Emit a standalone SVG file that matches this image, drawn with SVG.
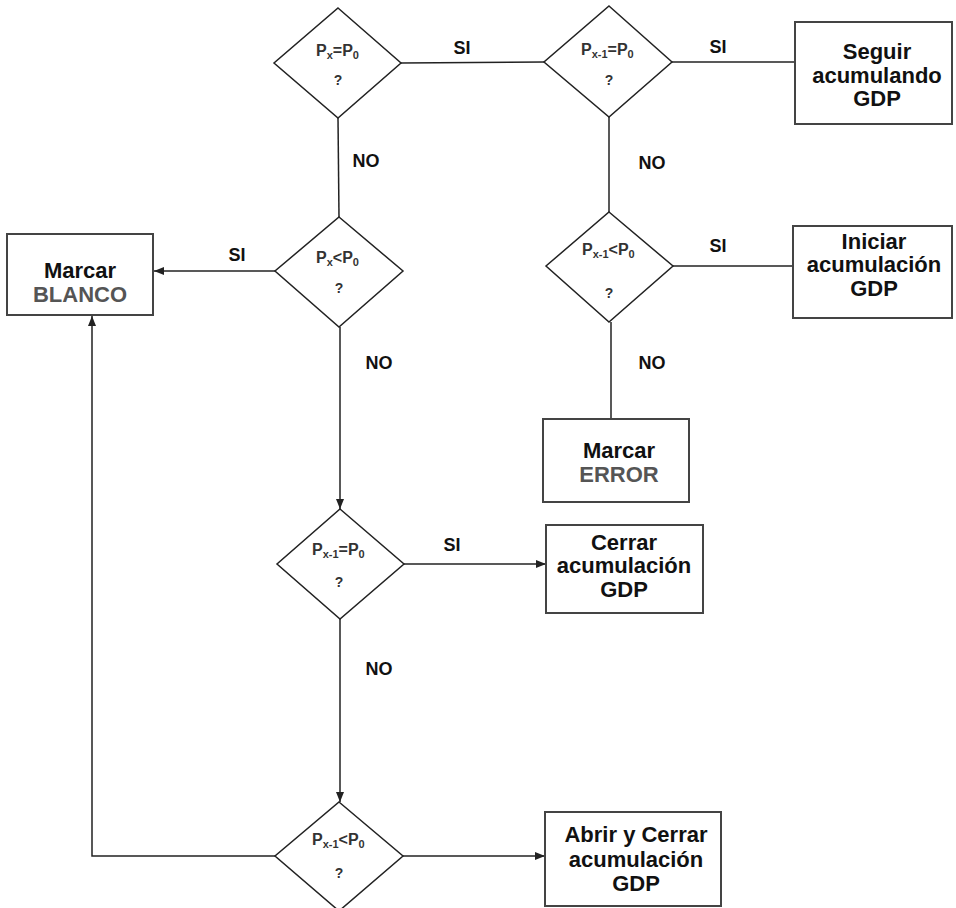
<svg xmlns="http://www.w3.org/2000/svg" width="956" height="908" viewBox="0 0 956 908">
<style>
.d{fill:#fff;stroke:#222;stroke-width:1.5}
.b{fill:#fff;stroke:#444;stroke-width:2}
.c{fill:none;stroke:#222;stroke-width:1.5}
.dt{font-family:"Liberation Sans",Arial,sans-serif;font-weight:bold;font-size:16px;fill:#333}
.sub{font-size:11px}
.q{font-family:"Liberation Sans",Arial,sans-serif;font-weight:bold;font-size:14px;fill:#333;text-anchor:middle}
.bt{font-family:"Liberation Sans",Arial,sans-serif;font-weight:bold;font-size:22px;fill:#111;text-anchor:middle}
.g{fill:#555}
.l{font-family:"Liberation Sans",Arial,sans-serif;font-weight:bold;font-size:18px;fill:#111;text-anchor:middle}
</style>
<defs>
<marker id="ah" viewBox="0 0 10 10" refX="10" refY="5" markerWidth="10" markerHeight="10" markerUnits="userSpaceOnUse" orient="auto">
<path d="M0,1 L10,5 L0,9 z" fill="#222"/>
</marker>
</defs>
<rect width="956" height="908" fill="#fff"/>
<g id="connectors">
<line class="c" x1="401" y1="63" x2="544" y2="62"/>
<line class="c" x1="672" y1="62" x2="795" y2="62"/>
<line class="c" x1="338" y1="118" x2="339" y2="217"/>
<line class="c" x1="609" y1="117" x2="609" y2="212"/>
<line class="c" x1="275" y1="271" x2="154" y2="271" marker-end="url(#ah)"/>
<line class="c" x1="673" y1="266" x2="793" y2="266"/>
<line class="c" x1="611" y1="322" x2="611" y2="419"/>
<line class="c" x1="340" y1="327" x2="340" y2="509" marker-end="url(#ah)"/>
<line class="c" x1="404" y1="564" x2="546" y2="564" marker-end="url(#ah)"/>
<line class="c" x1="340" y1="619" x2="340" y2="802" marker-end="url(#ah)"/>
<line class="c" x1="403" y1="856" x2="545" y2="856" marker-end="url(#ah)"/>
<polyline class="c" points="275,856 92,856 92,316" marker-end="url(#ah)"/>
<text class="l" x="462" y="54">SI</text>
<text class="l" x="718" y="53">SI</text>
<text class="l" x="366" y="167">NO</text>
<text class="l" x="652" y="169">NO</text>
<text class="l" x="237" y="261">SI</text>
<text class="l" x="718" y="252">SI</text>
<text class="l" x="379" y="369">NO</text>
<text class="l" x="652" y="369">NO</text>
<text class="l" x="452" y="551">SI</text>
<text class="l" x="379" y="675">NO</text>
</g>
<g id="d1">
<polygon class="d" points="338,8 401,63 338,118 274,63"/>
<text class="dt" x="316" y="56">P<tspan class="sub" dy="3">x</tspan><tspan dy="-3">=P</tspan><tspan class="sub" dy="3">0</tspan></text>
<text class="q" x="338" y="85">?</text>
</g>
<g id="d2">
<polygon class="d" points="609,6 672,62 609,117 544,62"/>
<text class="dt" x="581" y="55">P<tspan class="sub" dy="3">x-1</tspan><tspan dy="-3">=P</tspan><tspan class="sub" dy="3">0</tspan></text>
<text class="q" x="609" y="85">?</text>
</g>
<g id="d3">
<polygon class="d" points="339,217 403,271 339,327 275,271"/>
<text class="dt" x="316" y="263">P<tspan class="sub" dy="3">x</tspan><tspan dy="-3">&lt;P</tspan><tspan class="sub" dy="3">0</tspan></text>
<text class="q" x="339" y="293">?</text>
</g>
<g id="d4">
<polygon class="d" points="609,212 673,266 609,322 546,266"/>
<text class="dt" x="582" y="255">P<tspan class="sub" dy="3">x-1</tspan><tspan dy="-3">&lt;P</tspan><tspan class="sub" dy="3">0</tspan></text>
<text class="q" x="609" y="298">?</text>
</g>
<g id="d5">
<polygon class="d" points="340,509 404,564 340,619 277,564"/>
<text class="dt" x="312" y="555">P<tspan class="sub" dy="3">x-1</tspan><tspan dy="-3">=P</tspan><tspan class="sub" dy="3">0</tspan></text>
<text class="q" x="339" y="587">?</text>
</g>
<g id="d6">
<polygon class="d" points="339,802 403,856 339,911 275,856"/>
<text class="dt" x="312" y="845">P<tspan class="sub" dy="3">x-1</tspan><tspan dy="-3">&lt;P</tspan><tspan class="sub" dy="3">0</tspan></text>
<text class="q" x="339" y="878">?</text>
</g>
<g id="seguir">
<rect class="b" x="795" y="22" width="157" height="102"/>
<text class="bt" x="877" y="59">Seguir</text>
<text class="bt" x="877" y="83">acumulando</text>
<text class="bt" x="877" y="106">GDP</text>
</g>
<g id="iniciar">
<rect class="b" x="793" y="226" width="159" height="92"/>
<text class="bt" x="874" y="249">Iniciar</text>
<text class="bt" x="874" y="272">acumulación</text>
<text class="bt" x="874" y="296">GDP</text>
</g>
<g id="blanco">
<rect class="b" x="7" y="234" width="146" height="81"/>
<text class="bt" x="80" y="278">Marcar</text>
<text class="bt g" x="80" y="302">BLANCO</text>
</g>
<g id="error">
<rect class="b" x="543" y="419" width="146" height="83"/>
<text class="bt" x="619" y="458">Marcar</text>
<text class="bt g" x="619" y="482">ERROR</text>
</g>
<g id="cerrar">
<rect class="b" x="546" y="525" width="157" height="88"/>
<text class="bt" x="624" y="550">Cerrar</text>
<text class="bt" x="624" y="573">acumulación</text>
<text class="bt" x="624" y="597">GDP</text>
</g>
<g id="abrir">
<rect class="b" x="545" y="812" width="176" height="94"/>
<text class="bt" x="636" y="842">Abrir y Cerrar</text>
<text class="bt" x="636" y="867">acumulación</text>
<text class="bt" x="636" y="891">GDP</text>
</g>
</svg>
